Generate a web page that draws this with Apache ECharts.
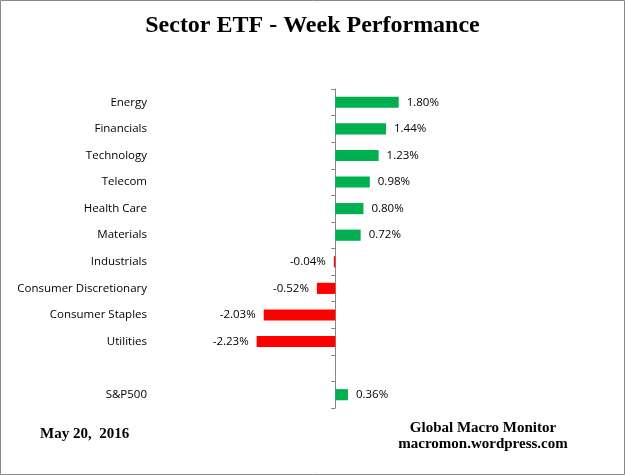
<!DOCTYPE html>
<html>
<head>
<meta charset="utf-8">
<script src="https://cdn.jsdelivr.net/npm/echarts@6/dist/echarts.min.js"></script>
<style>html,body{margin:0;padding:0;background:#fff}#c{width:625px;height:475px}</style>
</head>
<body>
<div id="c"></div>
<script>
const categories = ['Energy','Financials','Technology','Telecom','Health Care','Materials','Industrials','Consumer Discretionary','Consumer Staples','Utilities','','S&P500'];
const values = [1.80, 1.44, 1.23, 0.98, 0.80, 0.72, -0.04, -0.52, -2.03, -2.23, null, 0.36];
const titleText = 'Sector ETF - Week Performance';
const dateText = 'May 20,  2016';
const sourceText = 'Global Macro Monitor\nmacromon.wordpress.com';

const chart = echarts.init(document.getElementById('c'));
const data = values.map(v => v === null ? '-' : {
  value: v,
  itemStyle: { color: v >= 0 ? '#00B050' : '#FF0000' },
  label: { position: v >= 0 ? 'right' : 'left' }
});
chart.setOption({
  animation: false,
  backgroundColor: '#fff',
  title: {
    text: titleText, left: 'center', top: 9,
    textStyle: { fontFamily: 'Liberation Serif', fontWeight: 'bold', fontSize: 24, color: '#000' }
  },
  graphic: [
    { type: 'rect', shape: { x: 0.5, y: 0.5, width: 624, height: 474 }, style: { fill: 'none', stroke: '#888', lineWidth: 1 }, silent: true },
    { type: 'text', left: 40, top: 427, style: { text: dateText, font: 'bold 15px "Liberation Serif"', fill: '#000' } },
    { type: 'text', x: 483, y: 420, style: { text: sourceText, font: 'bold 15px "Liberation Serif"', fill: '#000', align: 'center', lineHeight: 16 } }
  ],
  grid: { left: 159, right: 184, top: 89, bottom: 67, containLabel: false },
  xAxis: { type: 'value', min: -5, max: 3, show: false },
  yAxis: [
    {
      type: 'category', data: categories, inverse: true,
      axisLine: { show: false, onZero: false }, axisTick: { show: false },
      axisLabel: { fontFamily: 'Open Sans', fontSize: 11.5, color: '#000', margin: 12 }
    },
    {
      type: 'category', data: categories, inverse: true, position: 'left',
      axisLine: { show: true, onZero: true, lineStyle: { color: '#868686', width: 1 } },
      axisTick: { show: true, length: 4, lineStyle: { color: '#868686' } },
      axisLabel: { show: false }
    }
  ],
  series: [{
    type: 'bar', yAxisIndex: 0, data: data, barWidth: '42%',
    label: {
      show: true, distance: 8, fontFamily: 'Open Sans', fontSize: 11.5, color: '#000',
      formatter: p => p.value.toFixed(2) + '%'
    }
  }]
});
</script>
</body>
</html>
